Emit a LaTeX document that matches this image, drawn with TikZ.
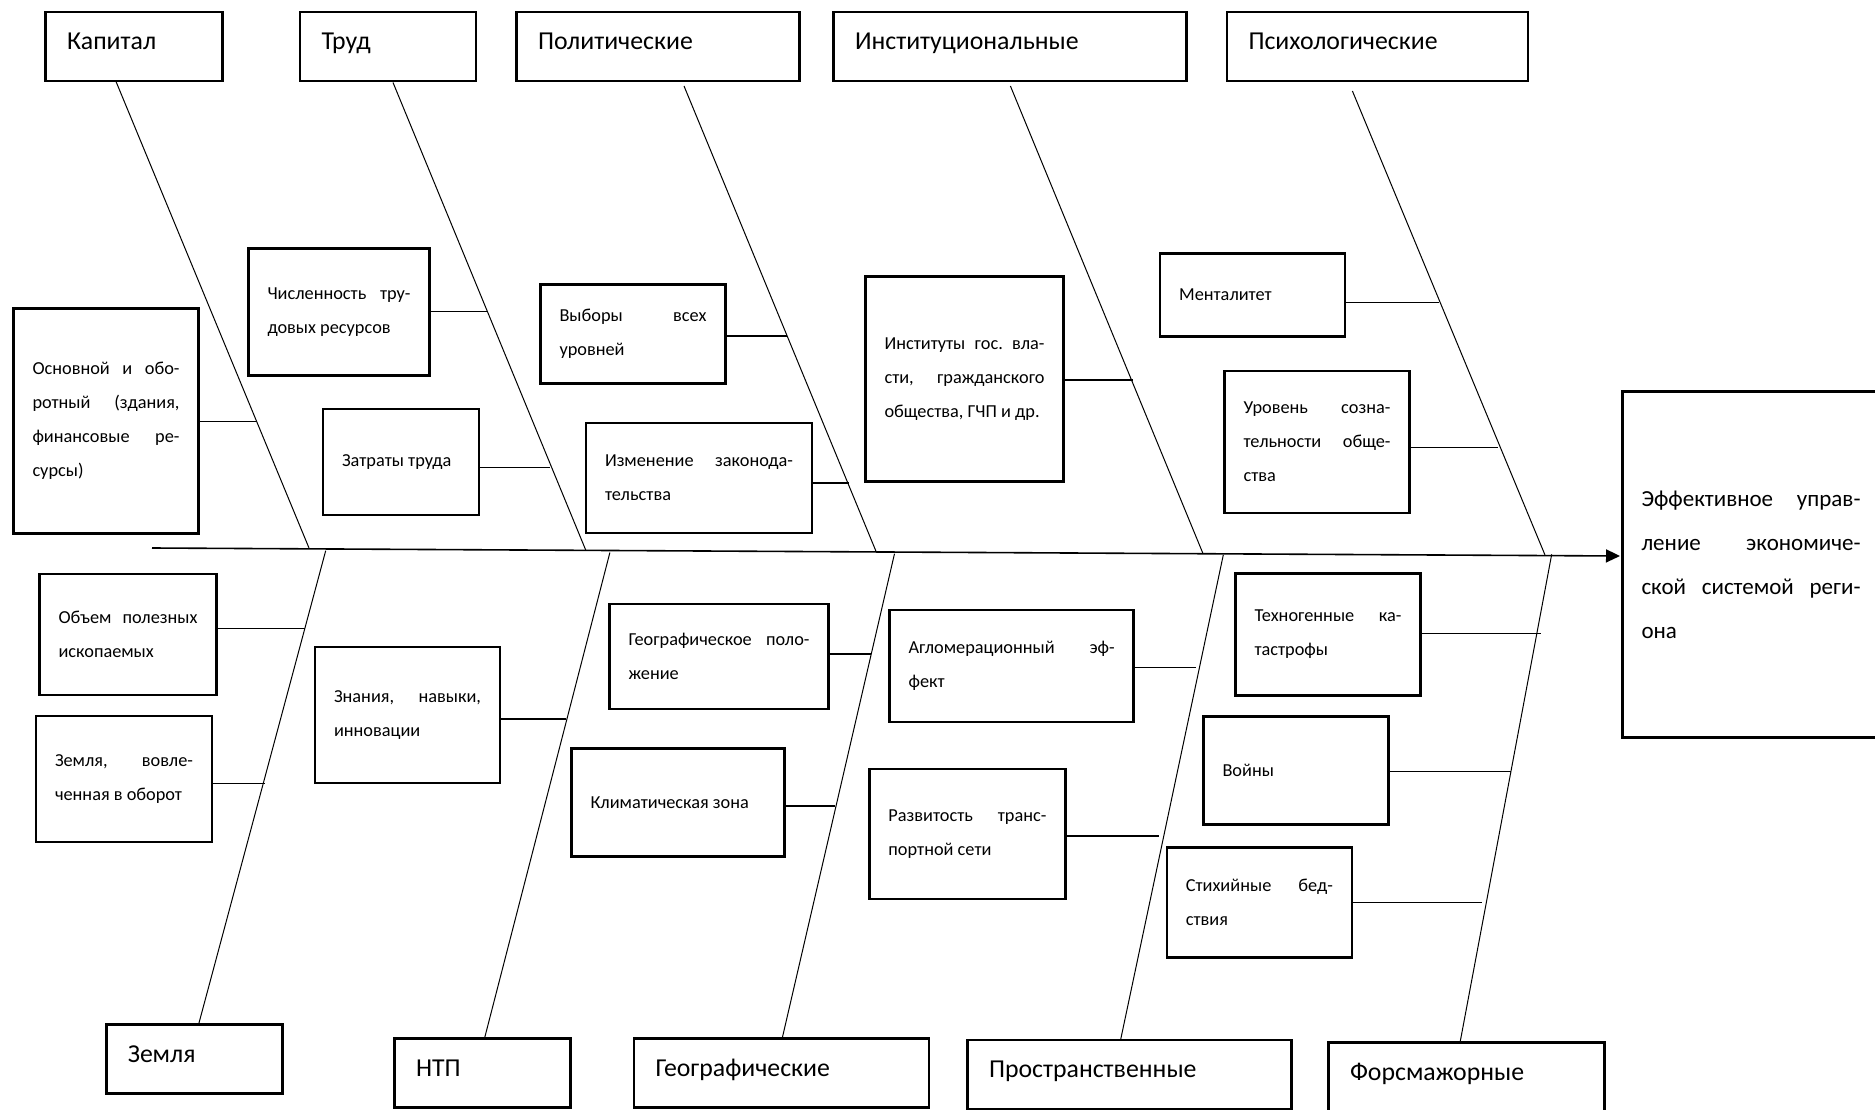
\documentclass[tikz,border=0pt]{standalone}
\usepackage{fontspec}
\setmainfont{Carlito}
\usepackage{tikz}
\usetikzlibrary{arrows.meta}

\newcommand\catfont{\fontsize{25.8}{30}\selectfont}
\newcommand\factfont{\fontsize{18.3}{34}\selectfont}
\newcommand\goalfont{\fontsize{23}{44}\selectfont}

\begin{document}
\begin{tikzpicture}[x=1pt,y=-1pt,
  cat/.style={draw,line width=2.4pt,minimum width=#1pt,minimum height=69pt,
    text width=#1pt-43pt,inner xsep=21.5pt,inner ysep=0pt,align=left,
    text height=18pt,text depth=12pt,font=\catfont},
  fact/.style 2 args={draw,line width=2.4pt,minimum width=#1pt,minimum height=#2pt,
    text width=#1pt-38pt,inner xsep=19pt,inner ysep=0pt,align=justify,font=\factfont},
  bone/.style={line width=1pt},
  twig/.style={line width=1.4pt},
  spine/.style={line width=1.6pt,-{Triangle[length=14pt,width=13pt]}}]
\useasboundingbox (0,0) rectangle (1875,1110);

% groups above the spine
\node[cat=177] (kap) at (134,46.5) {Капитал};
\node[cat=176] (trud) at (388,46.5) {Труд};
\node[cat=283] (polit) at (658,46.5) {Политические};
\node[cat=353] (inst) at (1010,46.5) {Институциональные};
\node[cat=301] (psych) at (1377.5,46.5) {Психологические};

% groups below the spine
\node[cat=176] (zem) at (194.3,1059) {Земля};
\node[cat=176] (ntp) at (482.5,1073) {НТП};
\node[cat=295] (geo) at (781.5,1073) {Географические};
\node[cat=324] (prost) at (1129.5,1074.5) {Пространственные};
\node[cat=276] (fors) at (1466.5,1077) {Форсмажорные};

% result
\node[fact={257}{346},font=\goalfont] (goal) at (1751,564.5)
  {Эффективное\hfill управ-\\ление\hfill экономиче-\\ской\hfill системой\hfill реги-\\она};

% spine
\coordinate (tail) at (152,548);
\coordinate (head) at (1620,556);
\draw[spine] (tail) -- (head);

% bones
\coordinate (kap-t) at (116,81.5);     \coordinate (kap-s) at (309,548);
\coordinate (trud-t) at (393,82.5);    \coordinate (trud-s) at (585.7,550);
\coordinate (polit-t) at (684,86);     \coordinate (polit-s) at (876.5,552.5);
\coordinate (inst-t) at (1010.4,86);   \coordinate (inst-s) at (1203,553.6);
\coordinate (psych-t) at (1352.4,91);  \coordinate (psych-s) at (1545,555);
\coordinate (zem-s) at (325.7,550.7);  \coordinate (zem-b) at (198.5,1024.8);
\coordinate (ntp-s) at (609.9,552.5);  \coordinate (ntp-b) at (484.3,1039.2);
\coordinate (geo-s) at (894.5,553.7);  \coordinate (geo-b) at (782,1039.2);
\coordinate (prost-s) at (1223.3,554.9); \coordinate (prost-b) at (1120.5,1040.3);
\coordinate (fors-s) at (1551.7,554.3);  \coordinate (fors-b) at (1460,1042.7);

\draw[bone] (kap-t) -- (kap-s);
\draw[bone] (trud-t) -- (trud-s);
\draw[bone] (polit-t) -- (polit-s);
\draw[bone] (inst-t) -- (inst-s);
\draw[bone] (psych-t) -- (psych-s);
\draw[bone] (zem-s) -- (zem-b);
\draw[bone] (ntp-s) -- (ntp-b);
\draw[bone] (geo-s) -- (geo-b);
\draw[bone] (prost-s) -- (prost-b);
\draw[bone] (fors-s) -- (fors-b);

% factors above
\node[fact={185}{225}] (osn) at (106,421)
  {Основной\hfill и\hfill обо-\\ротный\hfill (здания,\\финансовые\hfill ре-\\сурсы)};
\node[fact={181}{127}] (chisl) at (339,312) {Численность\hfill тру-\\довых ресурсов};
\node[fact={156}{106}] (zatr) at (401,462) {Затраты труда};
\node[fact={185}{99}] (vyb) at (633,334) {Выборы\hfill всех\\уровней};
\node[fact={226}{110}] (izm) at (699,478) {Изменение\hfill законода-\\тельства};
\node[fact={198}{205}] (instf) at (964.5,379)
  {Институты\hfill гос.\hfill вла-\\сти,\hfill гражданского\\общества, ГЧП и~др.};
\node[fact={185}{83}] (ment) at (1252.6,295) {Менталитет};
\node[fact={185}{142}] (urov) at (1317,442) {Уровень\hfill созна-\\тельности\hfill обще-\\ства};

% factors below
\node[fact={177}{121}] (obem) at (128,634.5) {Объем\hfill полезных\\ископаемых};
\node[fact={176}{126}] (zemv) at (124,779) {Земля,\hfill вовле-\\ченная в оборот};
\node[fact={185}{136}] (znan) at (407.5,715) {Знания,\hfill навыки,\\инновации};
\node[fact={219}{105}] (geop) at (719,656.5) {Географическое\hfill поло-\\жение};
\node[fact={213}{108}] (klim) at (678,802.5) {Климатическая зона};
\node[fact={244}{112}] (aglo) at (1011.6,666) {Агломерационный\hfill эф-\\фект};
\node[fact={196}{130}] (razv) at (967.4,834) {Развитость\hfill транс-\\портной сети};
\node[fact={185}{122}] (tech) at (1328,634.3) {Техногенные\hfill ка-\\тастрофы};
\node[fact={185}{108}] (voin) at (1296,770.5) {Войны};
\node[fact={185}{110}] (stih) at (1259.3,902.5) {Стихийные\hfill бед-\\ствия};

% twigs
\coordinate (osn-e) at (256.5,421.5);
\coordinate (chisl-e) at (486.7,311.7);
\coordinate (zatr-e) at (550,467.7);
\coordinate (vyb-e) at (786.8,336);
\coordinate (izm-e) at (849,483);
\coordinate (instf-e) at (1133.3,380);
\coordinate (ment-e) at (1438.5,302.5);
\coordinate (urov-e) at (1498.3,447.2);
\coordinate (obem-e) at (304.5,628.5);
\coordinate (zemv-e) at (265,783.3);
\coordinate (znan-e) at (565.7,719);
\coordinate (geop-e) at (870.5,654);
\coordinate (klim-e) at (834.7,806);
\coordinate (aglo-e) at (1195.8,667.3);
\coordinate (razv-e) at (1158.7,836);
\coordinate (tech-e) at (1540.7,633.3);
\coordinate (voin-e) at (1511,771.7);
\coordinate (stih-e) at (1482.3,902.7);

\draw[twig] (osn.east |- osn-e) -- (osn-e);
\draw[twig] (chisl.east |- chisl-e) -- (chisl-e);
\draw[twig] (zatr.east |- zatr-e) -- (zatr-e);
\draw[twig] (vyb.east |- vyb-e) -- (vyb-e);
\draw[twig] (izm.east |- izm-e) -- (izm-e);
\draw[twig] (instf.east |- instf-e) -- (instf-e);
\draw[twig] (ment.east |- ment-e) -- (ment-e);
\draw[twig] (urov.east |- urov-e) -- (urov-e);
\draw[twig] (obem.east |- obem-e) -- (obem-e);
\draw[twig] (zemv.east |- zemv-e) -- (zemv-e);
\draw[twig] (znan.east |- znan-e) -- (znan-e);
\draw[twig] (geop.east |- geop-e) -- (geop-e);
\draw[twig] (klim.east |- klim-e) -- (klim-e);
\draw[twig] (aglo.east |- aglo-e) -- (aglo-e);
\draw[twig] (razv.east |- razv-e) -- (razv-e);
\draw[twig] (tech.east |- tech-e) -- (tech-e);
\draw[twig] (voin.east |- voin-e) -- (voin-e);
\draw[twig] (stih.east |- stih-e) -- (stih-e);

\end{tikzpicture}
\end{document}
